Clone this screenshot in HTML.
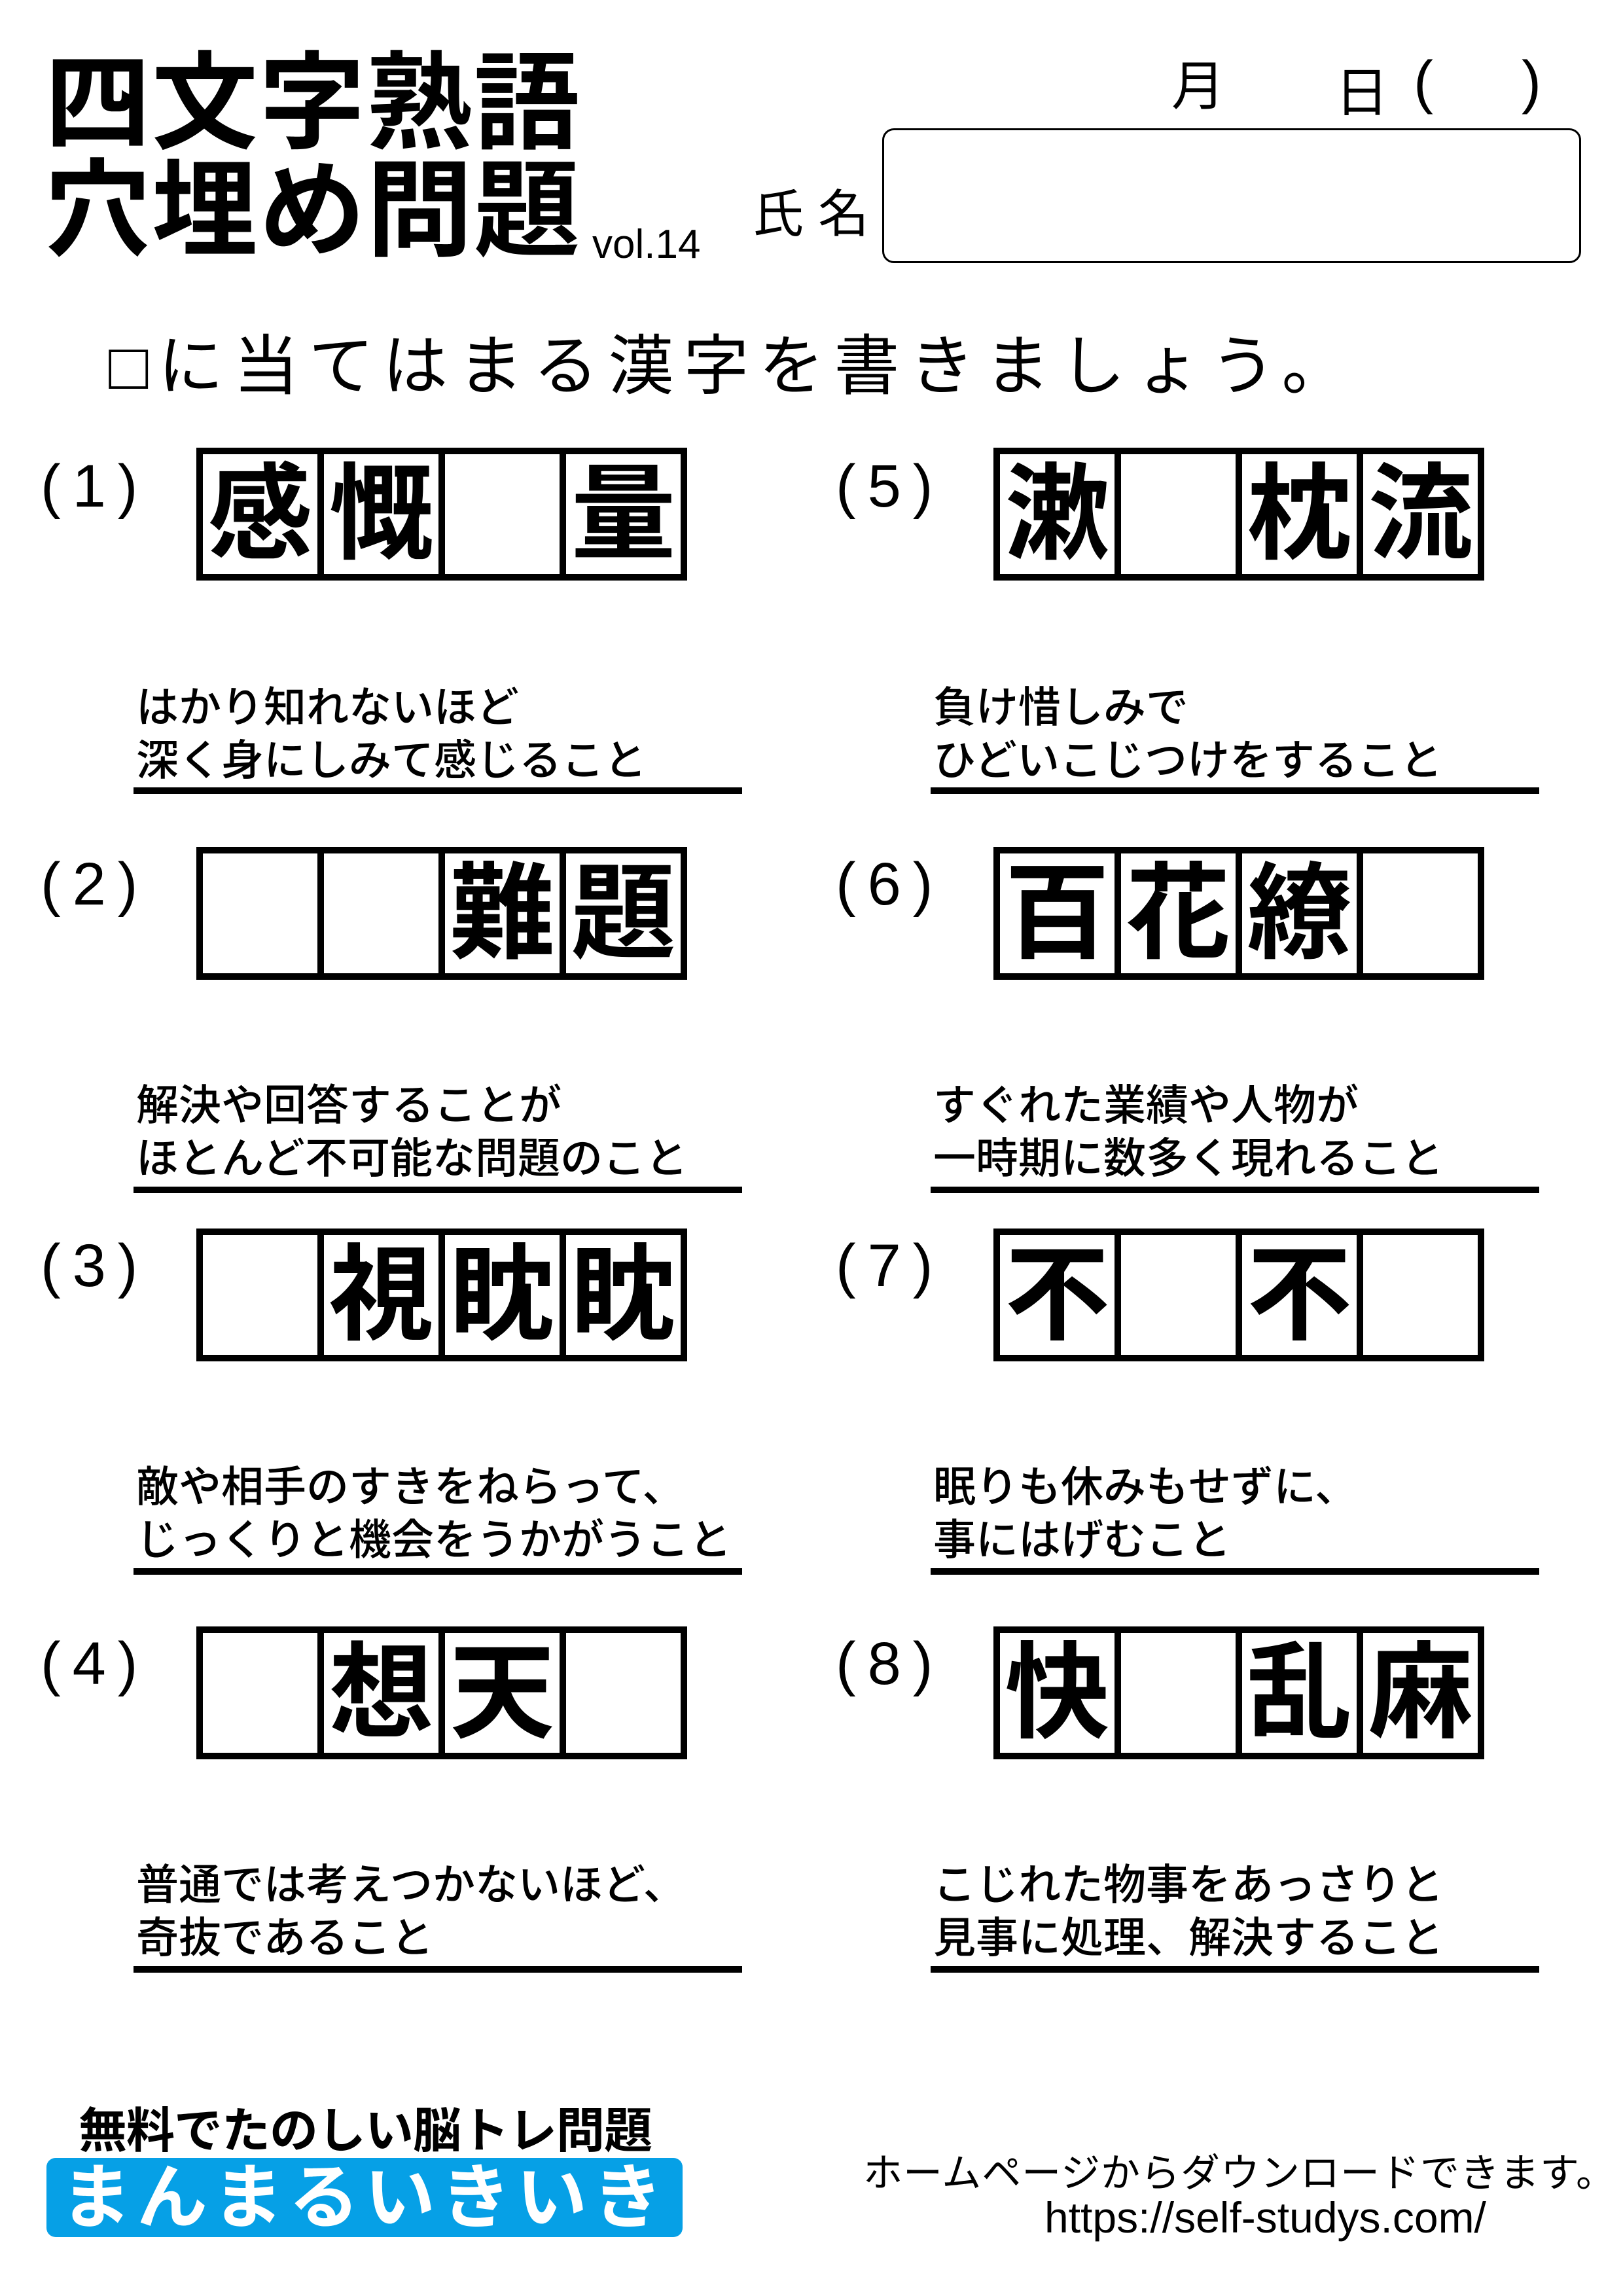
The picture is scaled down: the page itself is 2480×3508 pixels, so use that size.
<!DOCTYPE html>
<html><head><meta charset="utf-8"><style>
*{margin:0;padding:0;box-sizing:border-box}
body{width:2480px;height:3508px;background:#fff;position:relative;overflow:hidden;font-family:"Liberation Sans","Noto Sans CJK JP",sans-serif;color:#000}
.a{position:absolute;white-space:nowrap}
.t{font-size:162px;font-weight:bold;line-height:1;letter-spacing:2px}
.box{position:absolute;width:750px;height:203px;border:10px solid #000;display:flex;background:#000;gap:10px}
.box div{flex:1;background:#fff;font-size:160px;font-weight:bold;line-height:183px;text-align:center;overflow:hidden}
.lab{position:absolute;font-size:92px;line-height:1;letter-spacing:18px}
.d{position:absolute;font-size:65px;line-height:81px;font-weight:500;white-space:nowrap}
.u{position:absolute;height:10px;width:930px;background:#000}
</style></head><body>
<div class="a t" style="left:68px;top:78px">四文字熟語</div>
<div class="a t" style="left:68px;top:242px">穴埋め問題</div>
<div class="a" style="left:905px;top:338px;font-size:62px">vol.14</div>
<div class="a" style="left:1790px;top:65px;font-size:82px">月</div>
<div class="a" style="left:2040px;top:75px;font-size:82px">日</div>
<div class="a" style="left:2160px;top:75px;font-size:90px">(</div>
<div class="a" style="left:2325px;top:75px;font-size:90px">)</div>
<div class="a" style="left:1150px;top:265px;font-size:78px;letter-spacing:22px">氏名</div>
<div class="a" style="left:1348px;top:196px;width:1068px;height:206px;border:3px solid #000;border-radius:18px"></div>
<div class="a" style="left:166px;top:478px;font-size:100px;letter-spacing:15px">□に当てはまる漢字を書きましょう。</div>

<div class="lab" style="left:62px;top:697px">(1)</div>
<div class="box" style="left:300px;top:684px"><div>感</div><div>慨</div><div></div><div>量</div></div>
<div class="d" style="left:208px;top:1040px">はかり知れないほど<br>深く身にしみて感じること</div>
<div class="u" style="left:204px;top:1203px"></div>

<div class="lab" style="left:1277px;top:697px">(5)</div>
<div class="box" style="left:1518px;top:684px"><div>漱</div><div></div><div>枕</div><div>流</div></div>
<div class="d" style="left:1426px;top:1040px">負け惜しみで<br>ひどいこじつけをすること</div>
<div class="u" style="left:1422px;top:1203px"></div>

<div class="lab" style="left:62px;top:1305px">(2)</div>
<div class="box" style="left:300px;top:1294px"><div></div><div></div><div>難</div><div>題</div></div>
<div class="d" style="left:208px;top:1648px">解決や回答することが<br>ほとんど不可能な問題のこと</div>
<div class="u" style="left:204px;top:1813px"></div>

<div class="lab" style="left:1277px;top:1305px">(6)</div>
<div class="box" style="left:1518px;top:1294px"><div>百</div><div>花</div><div>繚</div><div></div></div>
<div class="d" style="left:1426px;top:1648px">すぐれた業績や人物が<br>一時期に数多く現れること</div>
<div class="u" style="left:1422px;top:1813px"></div>

<div class="lab" style="left:62px;top:1888px">(3)</div>
<div class="box" style="left:300px;top:1877px"><div></div><div>視</div><div>眈</div><div>眈</div></div>
<div class="d" style="left:208px;top:2231px">敵や相手のすきをねらって、<br>じっくりと機会をうかがうこと</div>
<div class="u" style="left:204px;top:2396px"></div>

<div class="lab" style="left:1277px;top:1888px">(7)</div>
<div class="box" style="left:1518px;top:1877px"><div>不</div><div></div><div>不</div><div></div></div>
<div class="d" style="left:1426px;top:2231px">眠りも休みもせずに、<br>事にはげむこと</div>
<div class="u" style="left:1422px;top:2396px"></div>

<div class="lab" style="left:62px;top:2496px">(4)</div>
<div class="box" style="left:300px;top:2485px"><div></div><div>想</div><div>天</div><div></div></div>
<div class="d" style="left:208px;top:2839px">普通では考えつかないほど、<br>奇抜であること</div>
<div class="u" style="left:204px;top:3004px"></div>

<div class="lab" style="left:1277px;top:2496px">(8)</div>
<div class="box" style="left:1518px;top:2485px"><div>快</div><div></div><div>乱</div><div>麻</div></div>
<div class="d" style="left:1426px;top:2839px">こじれた物事をあっさりと<br>見事に処理、解決すること</div>
<div class="u" style="left:1422px;top:3004px"></div>

<div class="a" style="left:120px;top:3196px;font-size:74px;font-weight:bold;letter-spacing:-1px">無料でたのしい脳トレ問題</div>
<div class="a" style="left:71px;top:3297px;width:972px;height:121px;background:#06a0e6;border-radius:14px;color:#fff;font-size:108px;font-weight:bold;line-height:121px;text-align:center;letter-spacing:8px">まんまるいきいき</div>
<div class="a" style="left:1319px;top:3272px;font-size:60px;letter-spacing:1px">ホームページからダウンロードできます。</div>
<div class="a" style="left:1596px;top:3350px;font-size:66px">https://self-studys.com/</div>
</body></html>
